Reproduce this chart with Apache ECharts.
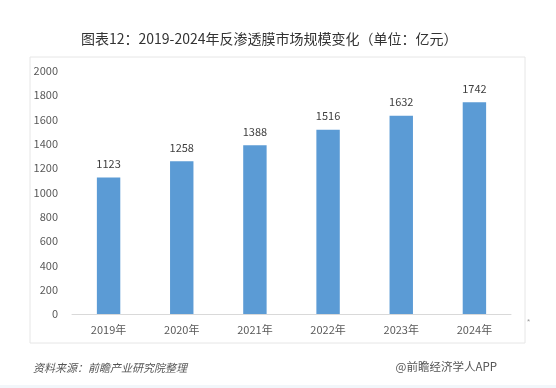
<!DOCTYPE html>
<html><head><meta charset="utf-8">
<script src="https://cdn.jsdelivr.net/npm/echarts@6/dist/echarts.min.js"></script>
<style>html,body{margin:0;padding:0;background:#fff}#c{width:556px;height:388px}</style>
</head><body><div id="c"></div>
<script>
const categories = ['2019年','2020年','2021年','2022年','2023年','2024年'];
const values = [1123, 1258, 1388, 1516, 1632, 1742];
const yTicks = [0, 200, 400, 600, 800, 1000, 1200, 1400, 1600, 1800, 2000];
const titleText = '图表12：2019-2024年反渗透膜市场规模变化（单位：亿元）';
const sourceText = '资料来源：前瞻产业研究院整理';
const brandText = '@前瞻经济学人APP';

const chart = echarts.init(document.getElementById('c'), null, {renderer:'canvas'});
const font = '"Microsoft YaHei","Noto Sans CJK SC",sans-serif';
chart.setOption({
  animation:false,
  backgroundColor:'#fff',
  title:{text:titleText,left:76,top:27,textStyle:{fontSize:14,fontWeight:'normal',color:'#333',fontFamily:font}},
  grid:{left:72,right:45,top:71,bottom:74},
  xAxis:{type:'category',data:categories,
    axisLine:{lineStyle:{color:'#d9d9d9'}},axisTick:{show:false},
    axisLabel:{color:'#595959',fontSize:11,margin:10,fontFamily:font}},
  yAxis:{type:'value',min:yTicks[0],max:yTicks[yTicks.length-1],interval:200,
    axisLine:{show:false},axisTick:{show:false},splitLine:{show:false},
    axisLabel:{color:'#595959',fontSize:11,margin:14,fontFamily:font,formatter:v=>String(v)}},
  series:[{type:'bar',data:values,barWidth:'32%',
    itemStyle:{color:'#5b9bd5'},
    label:{show:true,position:'top',distance:8,color:'#404040',fontSize:11,fontFamily:font}}],
  graphic:[
    {type:'rect',shape:{x:30,y:57,width:495,height:286},style:{fill:'none',stroke:'#e6e6e6',lineWidth:1},z:-1},
    {type:'text',left:527,top:318,style:{text:'*',fill:'#999',fontSize:8}},
    {type:'text',left:33,top:362,style:{text:sourceText,fill:'#555',fontSize:11,fontStyle:'italic',fontFamily:font}},
    {type:'text',right:59,top:361,style:{text:brandText,fill:'#555',fontSize:11.5,fontFamily:font}},
    {type:'rect',shape:{x:0,y:385,width:556,height:3},style:{fill:'#f2f6fa'}}
  ]
});
</script></body></html>
